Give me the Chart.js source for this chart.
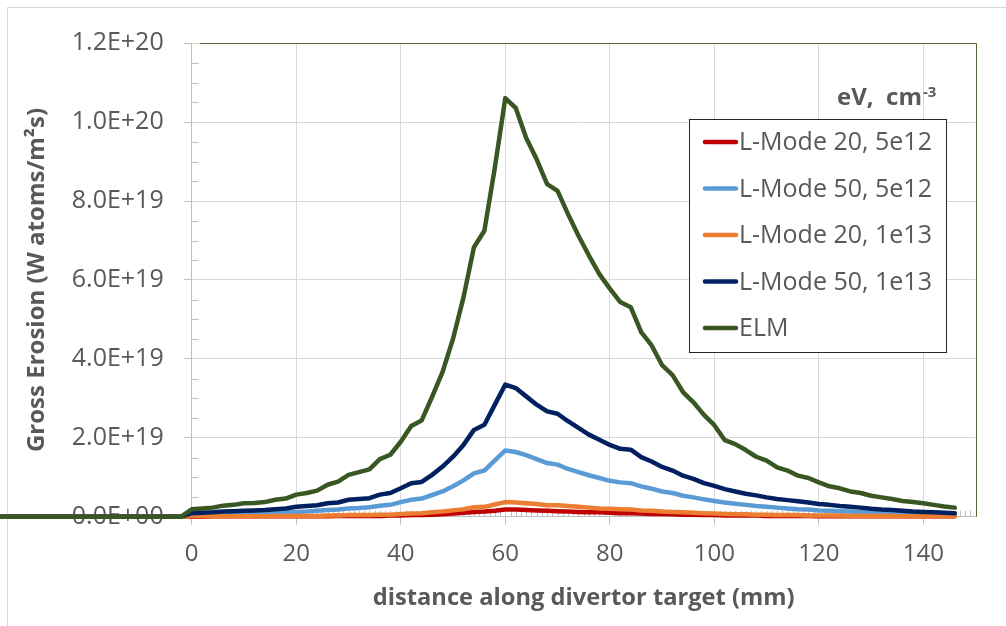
<!DOCTYPE html>
<html>
<head>
<meta charset="utf-8">
<script src="https://cdn.jsdelivr.net/npm/chart.js@4.4.0/dist/chart.umd.min.js"></script>
<style>
  html, body { margin: 0; padding: 0; background: #fff; overflow: hidden; }
  #frame { position: absolute; left: 7px; top: 7px; width: 1020px; height: 640px; border: 1px solid #d9d9d9; }
  #erosion-chart { position: absolute; left: 0; top: 0; }
</style>
</head>
<body>
<div id="frame"></div>
<canvas id="erosion-chart" width="1006" height="626"></canvas>
<script>
// distance along target (mm); first two points sit left of the axis
const distance = [-40, -2, 0, 2, 4, 6, 8, 10, 12, 14, 16, 18, 20, 22, 24, 26, 28, 30, 32, 34, 36, 38,
  40, 42, 44, 46, 48, 50, 52, 54, 56, 58, 60, 62, 64, 66, 68, 70, 72, 74, 76, 78, 80, 82, 84, 86, 88,
  90, 92, 94, 96, 98, 100, 102, 104, 106, 108, 110, 112, 114, 116, 118, 120, 122, 124, 126, 128, 130,
  132, 134, 136, 138, 140, 142, 144, 146];

// gross erosion, in units of 1e19 W atoms/m2s
const UNIT = 1e19;
const lmode20_5e12 = [0, 0, 0.00, 0.00, 0.01, 0.01, 0.01, 0.01, 0.01, 0.01, 0.01, 0.01, 0.01, 0.01, 0.01, 0.01,
  0.02, 0.02, 0.02, 0.02, 0.02, 0.03, 0.03, 0.04, 0.04, 0.05, 0.06, 0.08, 0.10, 0.12, 0.13, 0.15, 0.18,
  0.18, 0.17, 0.16, 0.15, 0.14, 0.13, 0.12, 0.11, 0.11, 0.10, 0.09, 0.09, 0.08, 0.07, 0.07, 0.06, 0.05,
  0.05, 0.04, 0.04, 0.03, 0.03, 0.03, 0.03, 0.02, 0.02, 0.02, 0.02, 0.02, 0.01, 0.01, 0.01, 0.01, 0.01,
  0.01, 0.01, 0.01, 0.01, 0.01, 0.01, 0.01, 0.01, 0.01];
const lmode50_5e12 = [0, 0, 0.05, 0.05, 0.06, 0.06, 0.07, 0.08, 0.08, 0.09, 0.10, 0.11, 0.12, 0.13, 0.15, 0.17,
  0.18, 0.21, 0.22, 0.24, 0.28, 0.30, 0.37, 0.43, 0.46, 0.55, 0.64, 0.77, 0.92, 1.10, 1.17, 1.43, 1.68,
  1.64, 1.56, 1.46, 1.36, 1.32, 1.21, 1.13, 1.05, 0.98, 0.91, 0.87, 0.85, 0.77, 0.71, 0.64, 0.60, 0.53,
  0.49, 0.44, 0.40, 0.36, 0.33, 0.30, 0.27, 0.25, 0.23, 0.21, 0.19, 0.18, 0.16, 0.15, 0.14, 0.13, 0.12,
  0.10, 0.09, 0.09, 0.08, 0.07, 0.06, 0.06, 0.05, 0.05];
const lmode20_1e13 = [0, 0, 0.01, 0.01, 0.01, 0.01, 0.01, 0.01, 0.01, 0.01, 0.02, 0.02, 0.02, 0.02, 0.02, 0.03,
  0.03, 0.04, 0.04, 0.04, 0.05, 0.05, 0.07, 0.08, 0.09, 0.11, 0.13, 0.16, 0.19, 0.24, 0.25, 0.31, 0.37,
  0.36, 0.34, 0.32, 0.29, 0.29, 0.27, 0.25, 0.23, 0.21, 0.20, 0.19, 0.18, 0.16, 0.15, 0.13, 0.12, 0.11,
  0.10, 0.09, 0.08, 0.07, 0.06, 0.06, 0.05, 0.05, 0.04, 0.04, 0.04, 0.03, 0.03, 0.03, 0.03, 0.02, 0.02,
  0.02, 0.02, 0.02, 0.01, 0.01, 0.01, 0.01, 0.01, 0.01];
const lmode50_1e13 = [0, 0, 0.09, 0.10, 0.11, 0.13, 0.14, 0.15, 0.16, 0.17, 0.19, 0.21, 0.25, 0.27, 0.29, 0.34,
  0.36, 0.43, 0.45, 0.47, 0.56, 0.60, 0.72, 0.85, 0.88, 1.06, 1.27, 1.52, 1.82, 2.20, 2.33, 2.84, 3.35,
  3.26, 3.05, 2.84, 2.67, 2.61, 2.42, 2.25, 2.08, 1.95, 1.82, 1.72, 1.70, 1.51, 1.40, 1.26, 1.17, 1.04,
  0.96, 0.85, 0.78, 0.70, 0.64, 0.58, 0.54, 0.49, 0.45, 0.42, 0.39, 0.36, 0.32, 0.30, 0.27, 0.25, 0.23,
  0.20, 0.18, 0.17, 0.15, 0.13, 0.12, 0.11, 0.10, 0.09];
const elm = [0, 0, 0.19, 0.21, 0.23, 0.28, 0.30, 0.34, 0.35, 0.37, 0.43, 0.46, 0.56, 0.60, 0.66, 0.81,
  0.89, 1.06, 1.13, 1.20, 1.46, 1.57, 1.90, 2.30, 2.44, 3.04, 3.67, 4.51, 5.56, 6.83, 7.25, 8.85, 10.61,
  10.36, 9.60, 9.06, 8.43, 8.26, 7.67, 7.12, 6.62, 6.15, 5.78, 5.44, 5.31, 4.68, 4.34, 3.84, 3.59, 3.16,
  2.90, 2.58, 2.32, 1.94, 1.84, 1.69, 1.52, 1.42, 1.25, 1.17, 1.04, 0.98, 0.87, 0.77, 0.72, 0.64, 0.60,
  0.53, 0.49, 0.45, 0.40, 0.37, 0.34, 0.30, 0.26, 0.23];

const seriesNames = ['L-Mode 20, 5e12', 'L-Mode 50, 5e12', 'L-Mode 20, 1e13', 'L-Mode 50, 1e13', 'ELM'];
const seriesValues = [lmode20_5e12, lmode50_5e12, lmode20_1e13, lmode50_1e13, elm];
const seriesColors = ['#c00000', '#5b9bd5', '#ed7d31', '#002060', '#385723'];

const FONT = '"Open Sans", "Noto Sans", sans-serif';
const GREY = '#595959';

// Excel style 1.2E+20 labels
function sciLabel(v) {
  if (v === 0) return '0.0E+00';
  const e = Math.floor(Math.log10(v) + 1e-9);
  const m = v / Math.pow(10, e);
  return m.toFixed(1) + 'E+' + String(e).padStart(2, '0');
}

// minor ticks and the green plot border
const plotDecor = {
  id: 'plotDecor',
  beforeDatasetsDraw(chart) {
    const { ctx, chartArea: a, scales: { x, y } } = chart;
    ctx.save();
    ctx.strokeStyle = '#bfbfbf';
    ctx.lineWidth = 1;
    ctx.beginPath();
    for (let k = 1; k < 24; k++) {
      if (k % 4 === 0) continue;
      const py = Math.round(y.getPixelForValue(k * 5e18)) + 0.5;
      ctx.moveTo(a.left, py);
      ctx.lineTo(a.left + 7, py);
    }
    for (let m = 1; m < 150; m++) {
      if (m % 20 === 0) continue;
      const px = Math.round(x.getPixelForValue(m)) + 0.5;
      ctx.moveTo(px, a.bottom);
      ctx.lineTo(px, a.bottom - 6);
    }
    ctx.stroke();
    ctx.strokeStyle = '#4f6b35';
    ctx.beginPath();
    const t = Math.round(a.top) + 0.5, r = Math.round(a.right) + 0.5;
    ctx.moveTo(a.left + 8, t);
    ctx.lineTo(r, t);
    ctx.lineTo(r, a.bottom);
    ctx.stroke();
    ctx.restore();
  }
};

// legend box inside the plot, as in the original
const legendBox = {
  id: 'legendBox',
  afterDraw(chart) {
    const ctx = chart.ctx;
    ctx.save();
    ctx.fillStyle = '#fff';
    ctx.fillRect(689, 119, 258, 234);
    ctx.strokeStyle = '#262626';
    ctx.lineWidth = 1;
    ctx.strokeRect(689.5, 119.5, 257, 233);
    ctx.font = '25px ' + FONT;
    ctx.textBaseline = 'middle';
    ctx.textAlign = 'left';
    chart.data.datasets.forEach((ds, i) => {
      const cy = 142 + i * 46.5;
      ctx.strokeStyle = ds.borderColor;
      ctx.lineWidth = 4.5;
      ctx.lineCap = 'round';
      ctx.beginPath();
      ctx.moveTo(705, cy);
      ctx.lineTo(736, cy);
      ctx.stroke();
      ctx.fillStyle = GREY;
      ctx.fillText(ds.label, 739, cy + 1);
    });
    // units header
    ctx.fillStyle = GREY;
    ctx.textBaseline = 'alphabetic';
    ctx.font = 'bold 24px ' + FONT;
    ctx.fillText('eV,  cm', 837, 105);
    const w = ctx.measureText('eV,  cm').width;
    ctx.font = 'bold 15px ' + FONT;
    ctx.fillText('-3', 837 + w + 1, 97);
    ctx.restore();
  }
};

const datasets = seriesNames.map((name, i) => ({
  label: name,
  data: distance.map((d, j) => ({ x: d, y: seriesValues[i][j] * UNIT })),
  borderColor: seriesColors[i],
  backgroundColor: seriesColors[i],
  borderWidth: 4.5,
  pointRadius: 0,
  tension: 0,
  borderJoinStyle: 'round',
  borderCapStyle: 'round',
  clip: false,
  order: seriesNames.length - i
}));

new Chart(document.getElementById('erosion-chart'), {
  type: 'line',
  data: { datasets: datasets },
  plugins: [plotDecor, legendBox],
  options: {
    responsive: false,
    animation: false,
    devicePixelRatio: 1,
    layout: { padding: { left: 0, top: 43.3, right: 30.3, bottom: 0 } },
    plugins: { legend: { display: false }, tooltip: { enabled: false } },
    scales: {
      x: {
        type: 'linear',
        bounds: 'data',
        // range set here (not via min/max) so the flat run left of 0 is still drawn
        afterDataLimits: s => { s.min = 0; s.max = 150; },
        afterBuildTicks: s => { s.ticks = s.ticks.filter(t => t.value >= 0 && t.value <= 140); },
        afterFit: s => { s.height = 109.3; },
        ticks: { stepSize: 20, color: GREY, font: { family: FONT, size: 24 }, padding: 15, maxRotation: 0 },
        grid: { color: '#d9d9d9', tickColor: '#bfbfbf', tickLength: 8 },
        border: { color: '#bfbfbf' },
        title: {
          display: true,
          text: 'distance along divertor target (mm)',
          color: GREY,
          font: { family: FONT, size: 23.7, weight: 'bold' },
          padding: { top: 0, bottom: 14 }
        }
      },
      y: {
        min: 0,
        max: 1.2e20,
        afterFit: s => { s.width = 191.7; },
        ticks: { stepSize: 2e19, callback: v => sciLabel(v), color: GREY, font: { family: FONT, size: 25 }, padding: 20 },
        grid: { color: '#d9d9d9', tickColor: '#bfbfbf', tickLength: 8 },
        border: { color: '#bfbfbf' },
        title: {
          display: true,
          text: 'Gross Erosion (W atoms/m²s)',
          color: GREY,
          font: { family: FONT, size: 24, weight: 'bold' },
          padding: { top: 23, bottom: 0 }
        }
      }
    }
  }
});
</script>
</body>
</html>
